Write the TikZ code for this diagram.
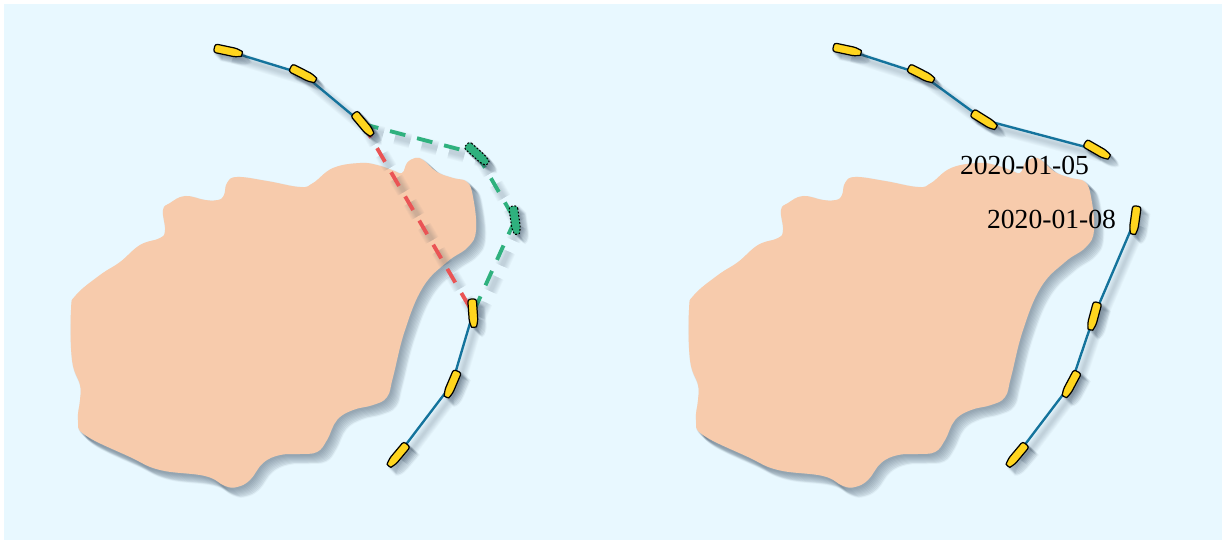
\documentclass[tikz,border=0pt]{standalone}
\usepackage{fontspec}
\setmainfont{Liberation Serif}
\definecolor{sea}{HTML}{E8F8FF}
\definecolor{land}{HTML}{F7CBAC}
\definecolor{hull}{HTML}{FFD51E}
\definecolor{trackblue}{HTML}{14739C}
\definecolor{routered}{HTML}{EA5455}
\definecolor{routegreen}{HTML}{2FB17E}
\definecolor{shadowink}{HTML}{33465A}
\newcommand{\islandpath}{plot[smooth cycle, tension=.7] coordinates {
  (227,183) (237,177) (267,181) (300,187) (313,183) (333,168) (360,163) (377,165)
  (392,170) (402,173) (407,163) (415,158) (423,160) (437,172) (453,178) (467,182)
  (473,197) (476,230) (468,247) (447,262) (423,287) (405,330) (393,377) (387,397)
  (373,405) (353,410) (337,420) (327,440) (317,452) (300,454) (280,455) (263,463)
  (250,480) (237,487) (225,486) (205,476) (160,470) (130,457) (85,435) (78,420)
  (80,400) (80,385) (72,360) (71,310) (76,295) (100,275) (120,262) (140,245)
  (160,238) (165,230) (163,210) (170,203) (185,196) (205,200) (218,200) (224,195)}}
\newcommand{\hullpath}{(-14,-4.3) -- (3,-4.3) .. controls (9,-4.3) and (14,-2.5) .. (15,0)
  .. controls (14,2.5) and (9,4.3) .. (3,4.3) -- (-14,4.3) -- cycle}
\begin{document}
\begin{tikzpicture}[
  x=0.02cm, y=-0.02cm,
  shade/.style={fill=shadowink, draw=shadowink, fill opacity=.055, draw opacity=.055, line width=1.2pt},
  boat/.pic={\filldraw[fill=hull, draw=black, line width=.7pt, rounded corners=1.5pt] \hullpath;},
  ghost/.pic={\filldraw[fill=routegreen, draw=black, line width=.6pt,
                        dash pattern=on 1pt off 1pt, rounded corners=1.5pt] \hullpath;},
  boatshade/.pic={\filldraw[shade] \hullpath;},
  track/.style={trackblue, line width=1.35pt},
  route/.style={line width=2.2pt, dash pattern=on 9pt off 6.9pt},
  linkshade/.style={shadowink, draw opacity=.03}
]
  \useasboundingbox (0,0) rectangle (1224,540);
  \fill[sea] (4,4) rectangle (1222,540);

  % Islands
  \foreach \dx in {0,618} {
    \begin{scope}[shift={(\dx,0)}]
      \foreach \t in {1,...,9} {
        \filldraw[shade, shift={(\t,\t)}] \islandpath;
      }
      \fill[land] \islandpath;
    \end{scope}
  }

  % Ship positions
  \foreach \n/\x/\y in {a1/228/51, a2/303/74, a3/363/124, g1/477/154, g2/515/220,
                        a4/473/313, a5/452/384, a6/398/455,
                        b1/847/50, b2/921/74, b3/984/120, b4/1097/150,
                        b5/1135/220, b6/1094/316, b7/1071/384, b8/1017/455} {
    \coordinate (\n) at (\x,\y);
  }

  % Shadows of the connections
  \begin{scope}[transform canvas={shift={(5,6)}}]
    \foreach \w in {0,1,2,3,4,5,6} {
      \draw[track, linkshade, line width=1.25pt+\w pt] (a1) -- (a2) -- (a3) (a4) -- (a5) -- (a6);
      \draw[track, linkshade, line width=1.25pt+\w pt] (b1) -- (b2) -- (b3) -- (b4) (b5) -- (b6) -- (b7) -- (b8);
      \draw[route, linkshade, line width=2.2pt+\w pt] (a3) -- (a4);
      \draw[route, linkshade, line width=2.2pt+\w pt] (a3) -- (g1);
      \draw[route, linkshade, line width=2.2pt+\w pt] (g1) -- (g2);
      \draw[route, linkshade, line width=2.2pt+\w pt] (g2) -- (a4);
    }
  \end{scope}

  % Connections
  \draw[track] (a1) -- (a2) -- (a3);
  \draw[track] (a4) -- (a5) -- (a6);
  \draw[track] (b1) -- (b2) -- (b3) -- (b4);
  \draw[track] (b5) -- (b6) -- (b7) -- (b8);
  \draw[route, routered] (a3) -- (a4);
  \draw[route, routegreen] (a3) -- (g1);
  \draw[route, routegreen] (g1) -- (g2);
  \draw[route, routegreen] (g2) -- (a4);

  % Ships
  \foreach \x/\y/\a in {228/51/12, 303/74/27, 363/124/50, 473/313/86, 452/384/113, 398/455/130,
                        847/50/12, 921/74/27, 984/120/32, 1097/150/30,
                        1135/220/98, 1094/316/105, 1071/384/118, 1017/455/130} {
    \foreach \t in {1,...,8} {
      \pic[rotate=-\a] at (\x+\t,\y+\t) {boatshade};
    }
    \pic[rotate=-\a] at (\x,\y) {boat};
  }
  \foreach \x/\y/\a in {477/154/42, 515/220/82} {
    \foreach \t in {1,...,8} {
      \pic[rotate=-\a] at (\x+\t,\y+\t) {boatshade};
    }
    \pic[rotate=-\a] at (\x,\y) {ghost};
  }

  % Dates
  \node[font=\fontsize{15.7}{18}\selectfont, inner sep=0pt] (d1) at (1024.5,165) {2020-01-05};
  \node[font=\fontsize{15.7}{18}\selectfont, inner sep=0pt] (d2) at (1051.5,219) {2020-01-08};
\end{tikzpicture}
\end{document}
